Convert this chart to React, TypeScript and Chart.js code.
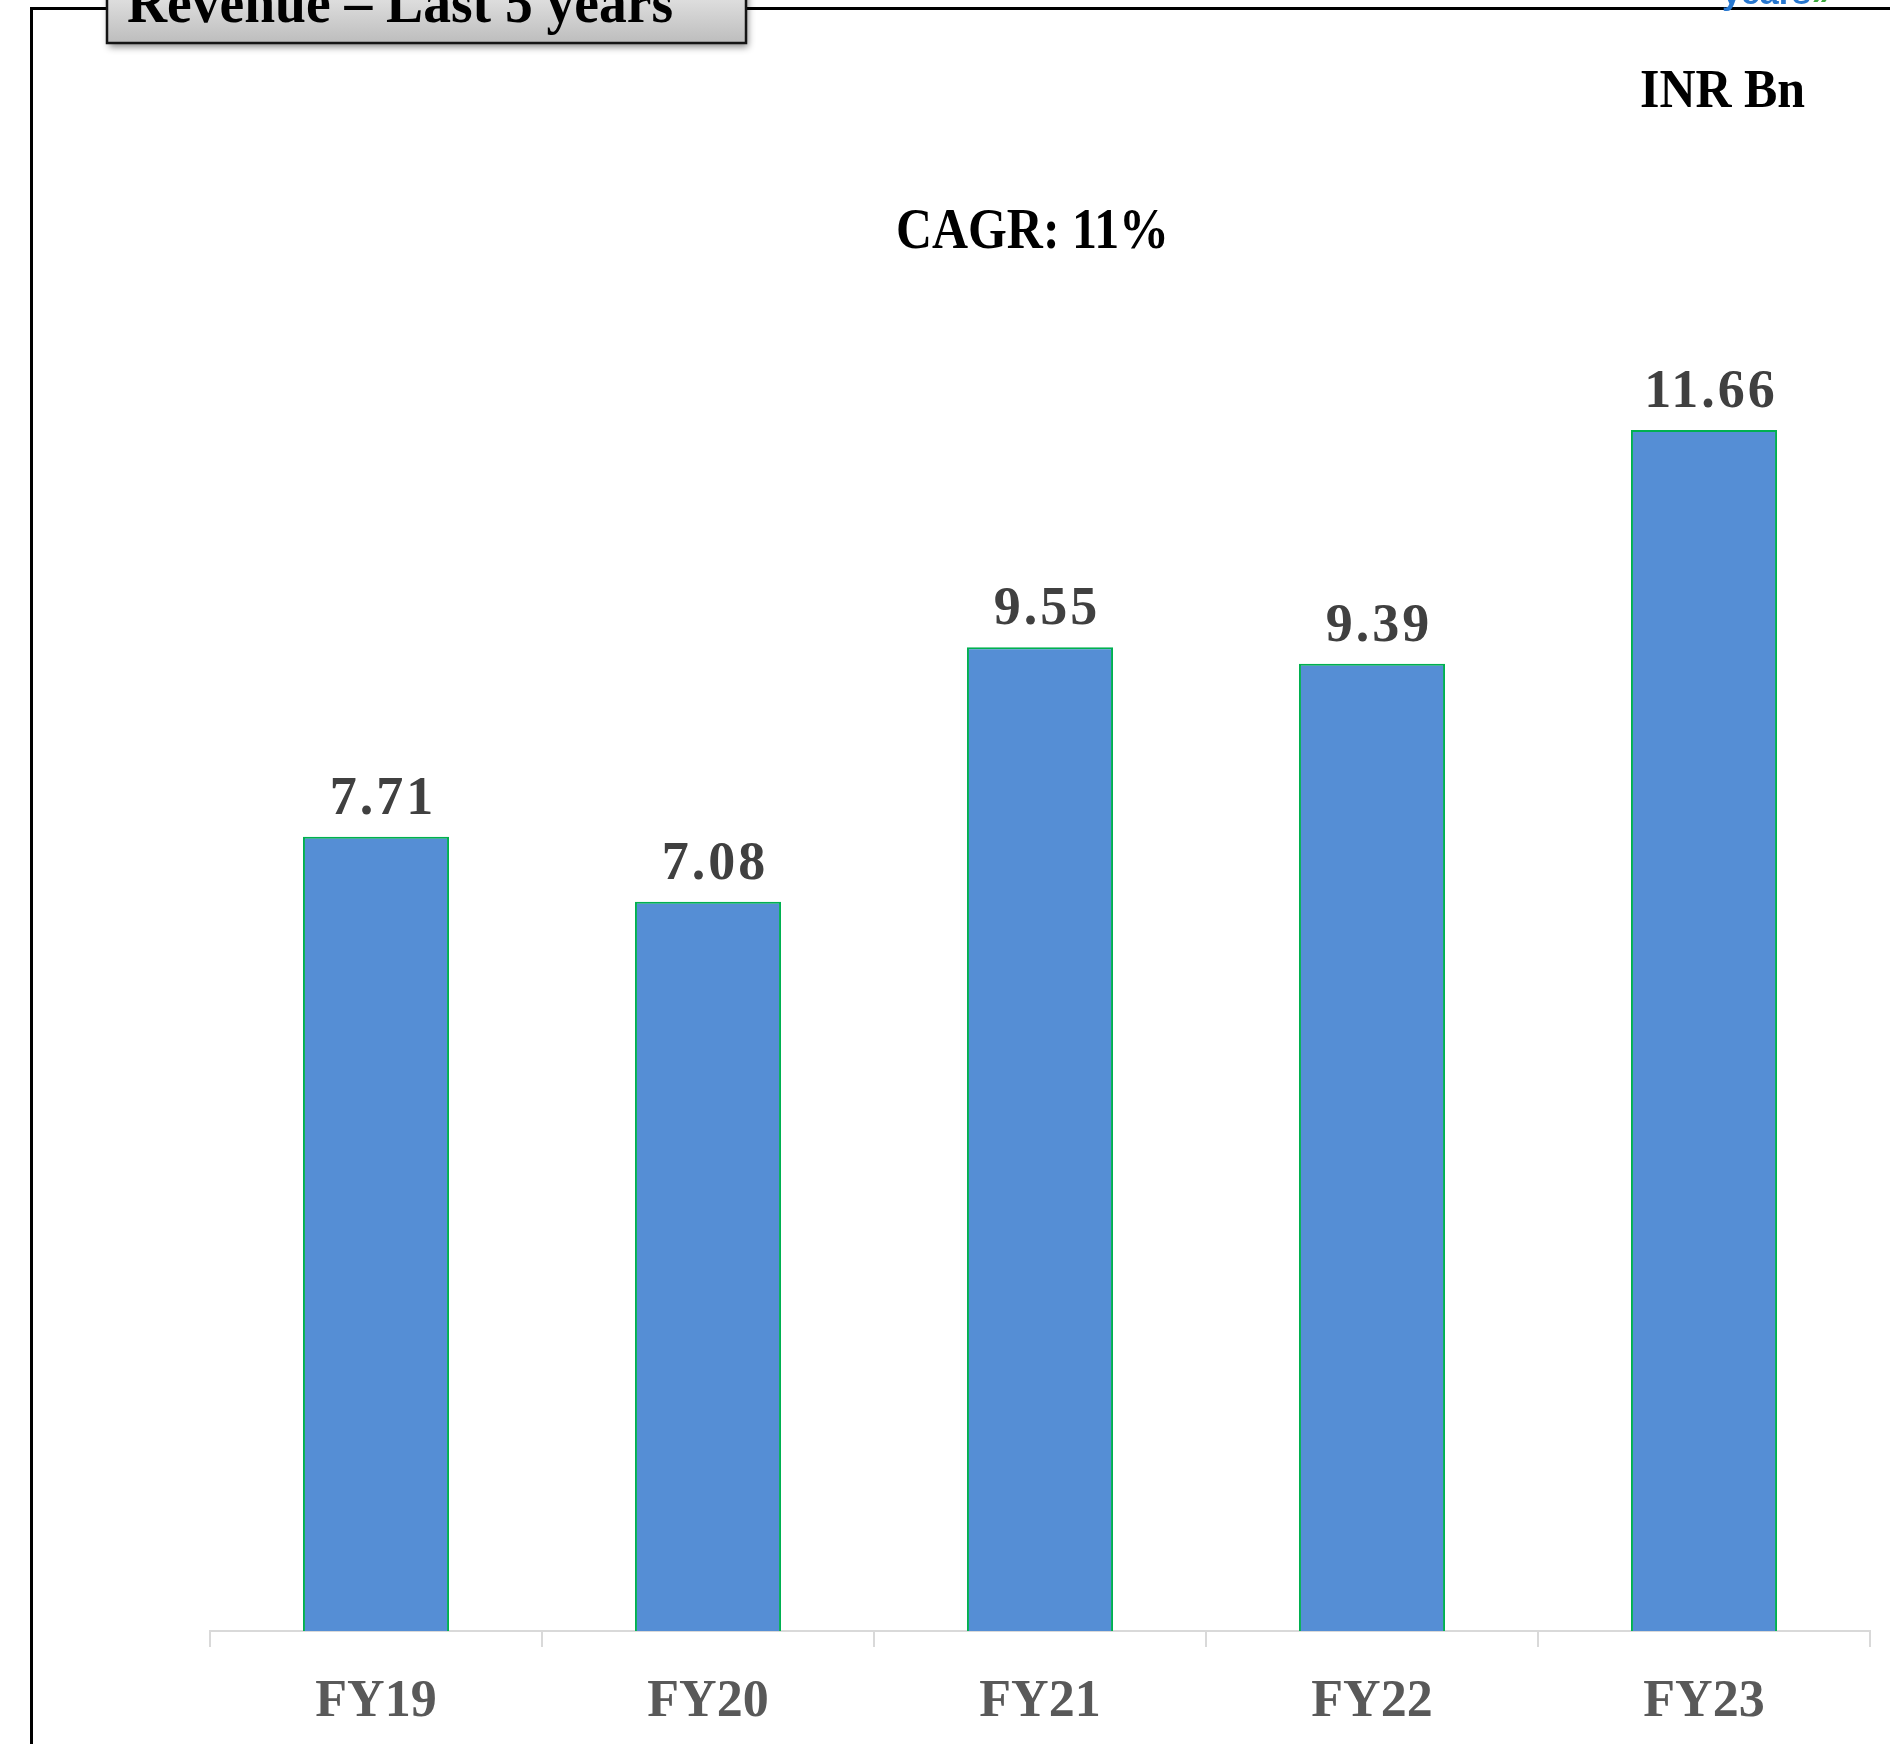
import React, { useEffect, useRef } from "react";
import { Chart, registerables } from "chart.js";

Chart.register(...registerables);

const categories = ["FY19", "FY20", "FY21", "FY22", "FY23"];
const revenue = [7.71, 7.08, 9.55, 9.39, 11.66];
const valueLabels = ["7.71", "7.08", "9.55", "9.39", "11.66"];
const chartTitle = "Revenue – Last 5 years";
const unitLabel = "INR Bn";
const cagrLabel = "CAGR: 11%";
const logoText = "years";
const logoMark = "»";

const W = 1890;
const H = 1744;
const SERIF = "'Liberation Serif', 'Times New Roman', serif";

function fitText(
  ctx: CanvasRenderingContext2D,
  text: string,
  x: number,
  baseline: number,
  fontPx: number,
  targetW: number,
  align: CanvasTextAlign,
  color: string
) {
  ctx.save();
  ctx.font = `bold ${fontPx}px ${SERIF}`;
  const w = ctx.measureText(text).width;
  const sx = targetW / w;
  ctx.translate(x, baseline);
  ctx.scale(sx, 1);
  ctx.textAlign = align;
  ctx.textBaseline = "alphabetic";
  ctx.fillStyle = color;
  ctx.fillText(text, 0, 0);
  ctx.restore();
}

const valueLabelPlugin = {
  id: "valueLabels",
  afterDatasetsDraw(chart: any) {
    const ctx: CanvasRenderingContext2D = chart.ctx;
    const meta = chart.getDatasetMeta(0);
    ctx.save();
    ctx.font = `bold 54px ${SERIF}`;
    (ctx as any).letterSpacing = "3px";
    ctx.fillStyle = "#404040";
    ctx.textAlign = "center";
    ctx.textBaseline = "alphabetic";
    meta.data.forEach((bar: any, i: number) => {
      ctx.fillText(valueLabels[i], bar.x + 7, bar.y - 23);
    });
    ctx.restore();
  },
};

const decorPlugin = {
  id: "decor",
  afterDraw(chart: any) {
    const ctx: CanvasRenderingContext2D = chart.ctx;
    ctx.save();
    // frame lines
    ctx.strokeStyle = "#000";
    ctx.lineWidth = 3;
    ctx.beginPath();
    ctx.moveTo(31.5, H);
    ctx.lineTo(31.5, 8.5);
    ctx.lineTo(W, 8.5);
    ctx.stroke();

    // clipped logo fragment at top right
    ctx.font = "bold 34px 'Liberation Sans', sans-serif";
    ctx.textAlign = "left";
    ctx.textBaseline = "alphabetic";
    ctx.fillStyle = "#2777CF";
    ctx.fillText(logoText, 1722, 4);
    ctx.fillStyle = "#3DAA3D";
    ctx.fillText(logoMark, 1812, 4);

    // title box
    ctx.save();
    ctx.shadowColor = "rgba(0,0,0,0.45)";
    ctx.shadowBlur = 7;
    ctx.shadowOffsetX = 2;
    ctx.shadowOffsetY = 4;
    const g = ctx.createLinearGradient(0, -40, 0, 43);
    g.addColorStop(0, "#fbfbfb");
    g.addColorStop(1, "#bdbdbd");
    ctx.fillStyle = g;
    ctx.fillRect(107, -40, 639, 83);
    ctx.restore();
    ctx.strokeStyle = "#141414";
    ctx.lineWidth = 2.5;
    ctx.strokeRect(107, -40, 639, 83);

    fitText(ctx, chartTitle, 127, 22, 60, 546, "left", "#000");
    fitText(ctx, unitLabel, 1722.5, 106.5, 55, 165, "center", "#000");
    fitText(ctx, cagrLabel, 1032.5, 248, 58, 273, "center", "#000");
    ctx.restore();
  },
};

export default function App() {
  const canvasRef = useRef<HTMLCanvasElement | null>(null);

  useEffect(() => {
    if (!canvasRef.current) return;
    const chart = new Chart(canvasRef.current, {
      type: "bar",
      data: {
        labels: categories,
        datasets: [
          {
            data: revenue,
            backgroundColor: "#558ED5",
            borderColor: "#00B050",
            borderWidth: 2,
            barPercentage: 0.44,
            categoryPercentage: 1,
          },
        ],
      },
      options: {
        responsive: false,
        animation: false,
        devicePixelRatio: 1,
        layout: { padding: { left: 210, right: 20, top: 189, bottom: 0 } },
        plugins: {
          legend: { display: false },
          tooltip: { enabled: false },
          title: { display: false },
        },
        scales: {
          x: {
            offset: true,
            grid: {
              display: true,
              drawOnChartArea: false,
              drawTicks: true,
              tickLength: 16,
              color: "#D9D9D9",
              lineWidth: 2,
              offset: true,
            },
            border: { display: true, color: "#D9D9D9", width: 2 },
            ticks: {
              color: "#595959",
              font: { family: SERIF, size: 52, weight: "bold" },
              padding: 24,
              maxRotation: 0,
              autoSkip: false,
            },
            afterFit: (s: any) => {
              s.height = 113;
            },
          },
          y: { display: false, min: 0, max: 14 },
        },
      },
      plugins: [valueLabelPlugin, decorPlugin],
    } as any);
    return () => chart.destroy();
  }, []);

  return (
    <div style={{ position: "absolute", left: 0, top: 0, width: W, height: H, background: "#fff", overflow: "hidden" }}>
      <canvas ref={canvasRef} width={W} height={H} style={{ width: W, height: H, display: "block" }} />
    </div>
  );
}
